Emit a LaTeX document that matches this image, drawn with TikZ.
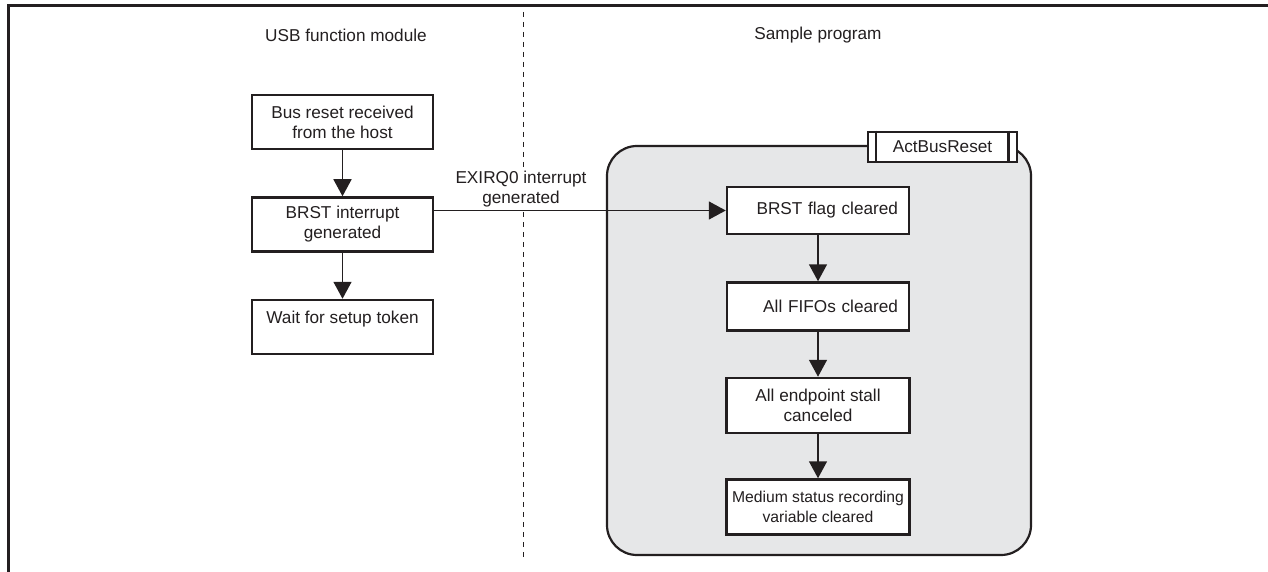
\documentclass[tikz,border=0pt]{standalone}
\usepackage{fontspec}
\setmainfont{Liberation Sans}
\usepackage{tikz}
\usetikzlibrary{positioning,arrows.meta}
\definecolor{ink}{HTML}{231F20}
\definecolor{panelgray}{HTML}{E6E7E8}

\begin{document}
\begin{tikzpicture}[x=1pt,y=-1pt,
  every node/.style = {font=\fontsize{17.2}{20}\selectfont, text=ink, align=center},
  box/.style = {shape=rectangle, draw=ink, line width=2.5pt, fill=white,
    minimum width=181pt, minimum height=54pt, inner sep=0pt},
  rbox/.style = {box, minimum width=182pt, minimum height=47pt,
    text width=160pt, align=right},
  flow/.style = {draw=ink, line width=1.6pt, -{Triangle[length=17pt,width=18pt]}}]
    \useasboundingbox (0,0) rectangle (1268,572);
    \draw[ink, line width=3pt] (1268,6) -- (8,6) -- (8,572);
    % column titles
    \node (usbhead) at (346,35) {USB function module};
    \node (samphead) at (818,35) {Sample program};
    \coordinate (divtop) at (523,12);
    \coordinate (divbot) at (523,557);
    \draw[ink, line width=1pt, dash pattern=on 5pt off 5pt] (divtop) -- (divbot);
    % USB function module
    \node[box] (reset) at (342.5,122) {Bus reset received\\from the host};
    \node[box, below=46pt of reset] (brst) {BRST interrupt\\generated};
    \node[box, below=46pt of brst] (wait) {Wait for setup token\\~};
    \draw[flow] (reset) -- (brst);
    \draw[flow] (brst) -- (wait);
    % ActBusReset
    \node[draw=ink, line width=2.2pt, fill=panelgray, rounded corners=30pt,
      minimum width=424pt, minimum height=409pt] (panel) at (819,350.5) {};
    \node[box, minimum width=149pt, minimum height=30pt] (tab) at (942.5,147) {ActBusReset};
    \draw[ink, line width=2.5pt] ([xshift=9pt]tab.north west) -- ([xshift=9pt]tab.south west);
    \draw[ink, line width=2.5pt] ([xshift=-10pt]tab.north east) -- ([xshift=-10pt]tab.south east);
    \node[rbox] (flag) at (818,210.5) {BRST flag cleared};
    \node[rbox, below=46pt of flag, minimum height=48pt] (fifo) {All FIFOs cleared};
    \node[box, below=45pt of fifo, minimum width=183pt, minimum height=55pt] (stall) {All endpoint stall\\canceled};
    \node[box, below=44pt of stall, minimum width=183pt, minimum height=55pt,
      font=\fontsize{15.7}{20}\selectfont] (medium) {Medium status recording\\variable cleared};
    \draw[flow] (flag) -- (fifo);
    \draw[flow] (fifo) -- (stall);
    \draw[flow] (stall) -- (medium);
    % EXIRQ0
    \draw[flow] (brst.east |- flag.west) -- (flag.west);
    \node[fill=white, inner sep=1pt] (irqlbl) at (521,189) {EXIRQ0 interrupt\\generated};
\end{tikzpicture}
\end{document}
